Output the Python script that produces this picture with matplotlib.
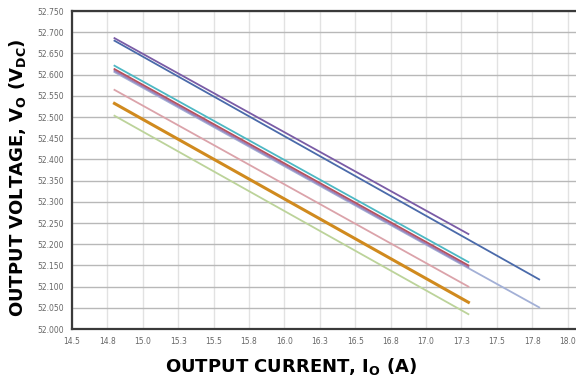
import matplotlib
matplotlib.use("Agg")
import matplotlib.pyplot as plt

# Daten: Ausgangsstrom (A) und Ausgangsspannung (V) je Kurve
strom_kurz = [14.8, 17.3]
strom_lang = [14.8, 17.8]

lila = [52.686, 52.224]
blau = [52.680, 52.117]
tuerkis = [52.621, 52.158]
rot = [52.613, 52.150]
lila2 = [52.609, 52.146]
hellblau = [52.606, 52.051]
rosa = [52.564, 52.100]
orange = [52.532, 52.063]
gruen = [52.503, 52.035]

x_ticks = [14.5, 14.75, 15.0, 15.25, 15.5, 15.75, 16.0, 16.25, 16.5, 16.75, 17.0, 17.25, 17.5, 17.75, 18.0]
x_labels = ["14.5", "14.8", "15.0", "15.3", "15.5", "15.8", "16.0", "16.3", "16.5", "16.8", "17.0", "17.3", "17.5", "17.8", "18.0"]
y_ticks = [52.0 + 0.05 * i for i in range(16)]

fig = plt.figure(figsize=(5.76, 3.82), dpi=100)
ax = fig.add_axes([0.125, 0.1387, 0.875, 0.8325])

# Linien
ax.plot(strom_lang, hellblau, color='#a3b0d6', lw=1.3)
ax.plot(strom_kurz, lila2, color='#9a84bd', lw=1.3)
ax.plot(strom_kurz, rot, color='#b5505e', lw=1.3)
ax.plot(strom_kurz, tuerkis, color='#4db8c4', lw=1.3)
ax.plot(strom_lang, blau, color='#4a6aaa', lw=1.3)
ax.plot(strom_kurz, lila, color='#7a5ca6', lw=1.3)
ax.plot(strom_kurz, rosa, color='#dba3aa', lw=1.3)
ax.plot(strom_kurz, orange, color='#d08a1e', lw=2.2)
ax.plot(strom_kurz, gruen, color='#bcd39a', lw=1.3)

# Achsen
ax.set_xlim(14.5, 18.06)
ax.set_ylim(52.0, 52.75)
ax.set_xticks(x_ticks)
ax.set_xticklabels(x_labels)
ax.set_yticks(y_ticks)
ax.set_yticklabels(["%.3f" % v for v in y_ticks])
ax.tick_params(axis='both', length=0, labelsize=5.5, labelcolor='#666666', pad=6)

ax.grid(axis='y', color='#b8b8b8', lw=1.0)
ax.grid(axis='x', color='#e2e2e2', lw=1.0)
ax.set_axisbelow(True)

for s in ['left', 'bottom', 'top']:
    ax.spines[s].set_color('#3a3a3a')
    ax.spines[s].set_linewidth(1.6)
ax.spines['right'].set_visible(False)

ax.set_xlabel(r'OUTPUT CURRENT, I$_{\mathbf{O}}$ (A)', fontsize=13, fontweight='bold')
ax.set_ylabel(r'OUTPUT VOLTAGE, V$_{\mathbf{O}}$ (V$_{\mathbf{DC}}$)', fontsize=13, fontweight='bold')
ax.xaxis.set_label_coords(0.435, -0.085)
ax.yaxis.set_label_coords(-0.088, 0.475)

fig.savefig('out.png', dpi=100)
